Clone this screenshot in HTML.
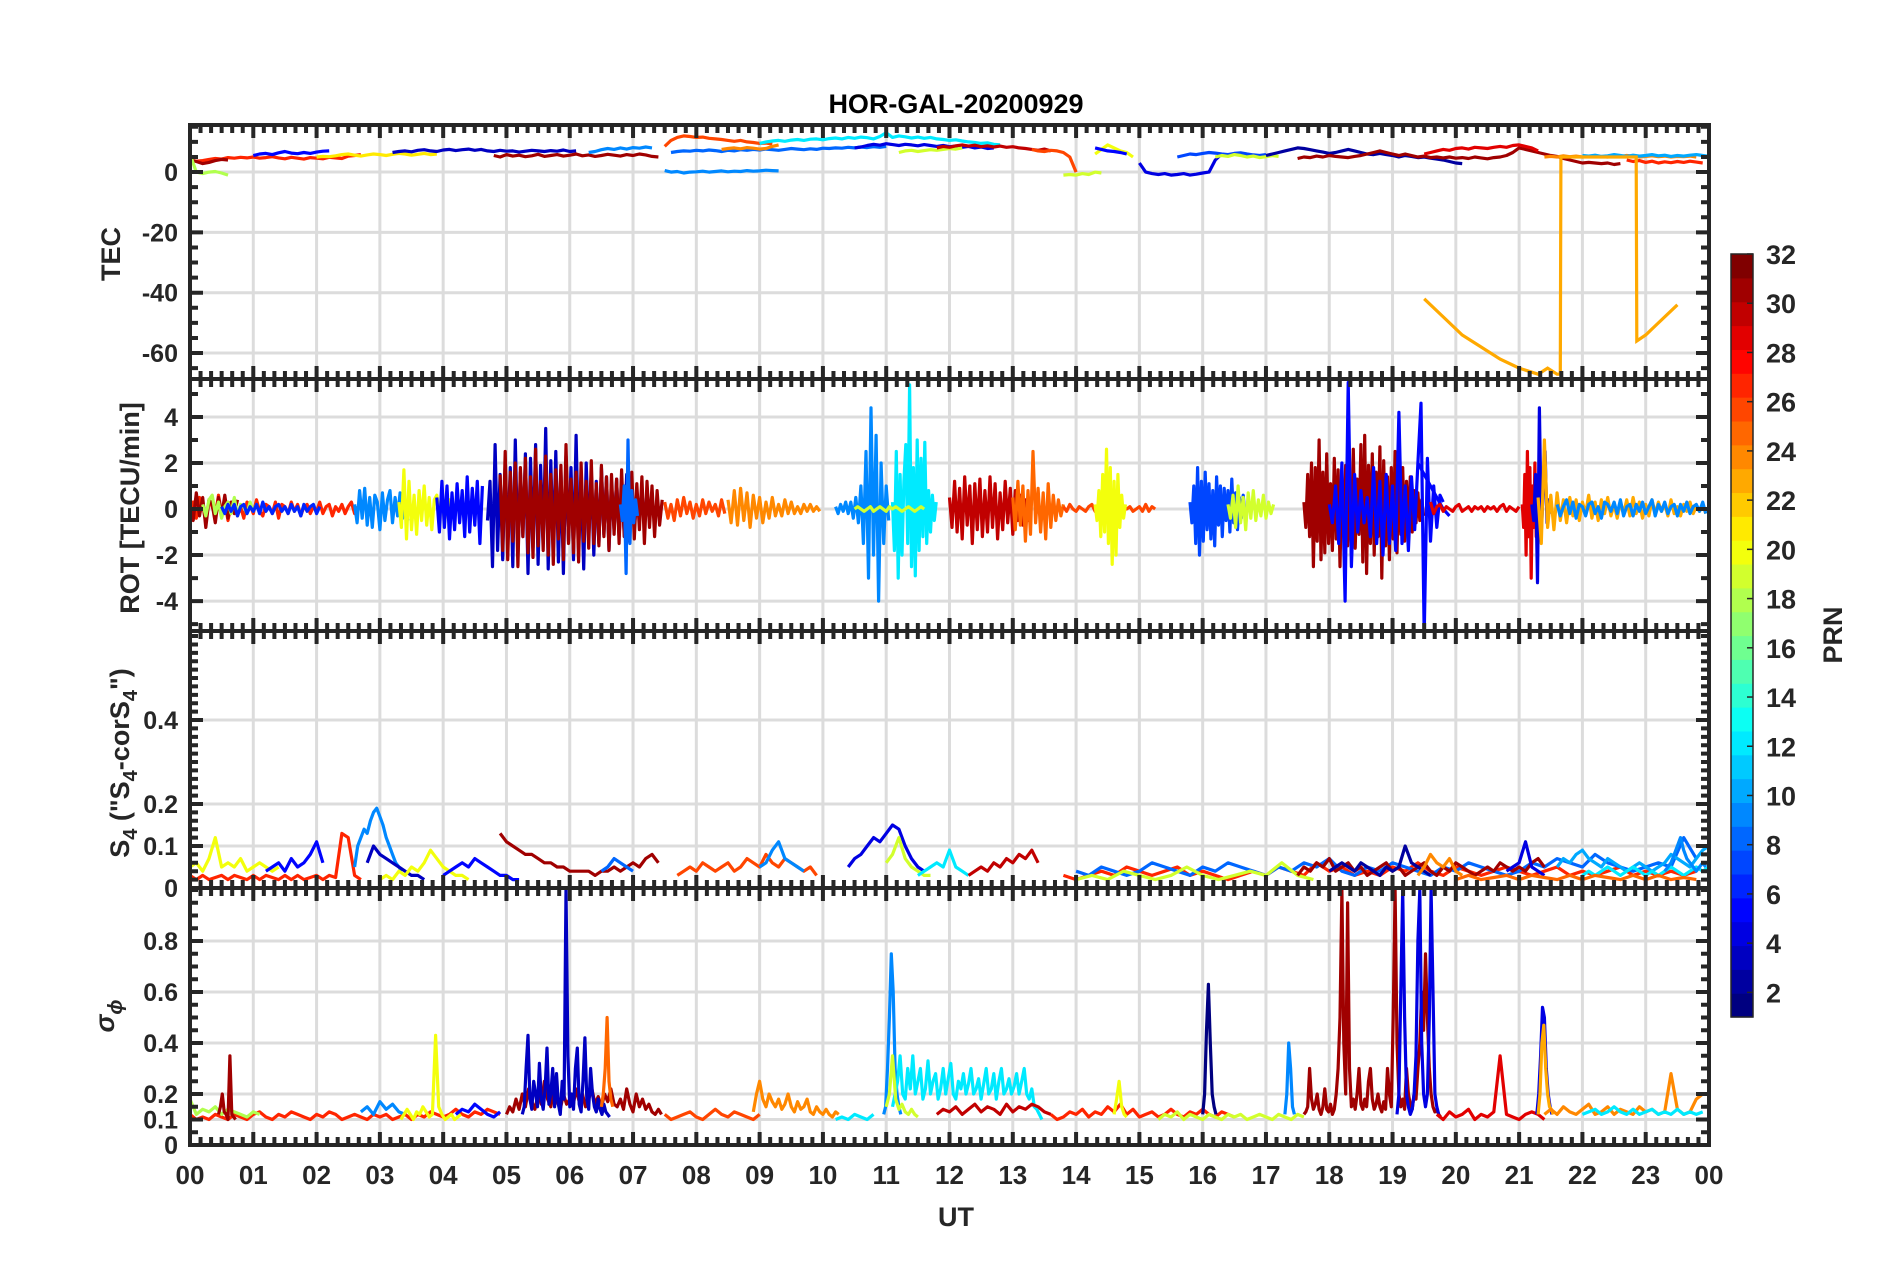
<!DOCTYPE html>
<html><head><meta charset="utf-8"><title>HOR-GAL-20200929</title>
<style>html,body{margin:0;padding:0;background:#fff}svg{display:block}text{font-family:"Liberation Sans",sans-serif;font-weight:bold;fill:#262626}</style>
</head><body>
<svg id="chart" width="1902" height="1272" viewBox="0 0 1902 1272" xmlns="http://www.w3.org/2000/svg">
<rect width="1902" height="1272" fill="#fff"/>
<text x="956" y="113" font-size="27" text-anchor="middle" style="fill:#000">HOR-GAL-20200929</text>
<g id="grid"></g><g id="data"></g><g id="axes"></g>
<text x="956" y="1226" font-size="27" text-anchor="middle">UT</text>
<text transform="translate(120,254) rotate(-90)" font-size="27" text-anchor="middle">TEC</text>
<text transform="translate(139,508) rotate(-90)" font-size="27" text-anchor="middle">ROT [TECU/min]</text>
<text transform="translate(129,763) rotate(-90)" font-size="27" text-anchor="middle">S<tspan font-size="20" dy="8">4</tspan><tspan dy="-8"> ("S</tspan><tspan font-size="20" dy="8">4</tspan><tspan dy="-8">-corS</tspan><tspan font-size="20" dy="8">4</tspan><tspan dy="-8">")</tspan></text>
<text transform="translate(114,1016) rotate(-90)" font-size="27" text-anchor="middle" font-style="italic" font-weight="normal">σ<tspan font-size="20" dy="8">ϕ</tspan></text>
<g id="colorbar"></g>
<text transform="translate(1842,635) rotate(-90)" font-size="27" text-anchor="middle">PRN</text>
</svg>
<script>
const hourLabels=["00","01","02","03","04","05","06","07","08","09","10","11","12","13","14","15","16","17","18","19","20","21","22","23","00"];
const tecTicks=[0,-20,-40,-60];
const rotTicks=[4,2,0,-2,-4];
const s4Ticks=[0,0.1,0.2,0.4];
const sigTicks=[0,0.1,0.2,0.4,0.6,0.8];
const prnTicks=[2,4,6,8,10,12,14,16,18,20,22,24,26,28,30,32];
// series: [prn, startHour, stepHours, values]
const tecSeries=[
[27,0,0.1,[4,3.6,3.8,4.2,4.5,4.3,4.8,4.6,4.9,4.7,5,4.6,4.8,5.1,4.7,4.4,4.9,4.6,4.3,4.8,4.6,4.4,4.9,4.7,4.5,5.3,5.5,5.8]],
[31,0,0.1,[4,3.5,2.8,3.2,3.8,4.2,4]],
[18,0,0.1,[6,0,-0.5,0,0.2,-0.3,-1]],
[5,1.0,0.1,[5.5,6,6.2,5.8,6.4,6.8,6.3,6.1,6.5,6.2,6.6,6.9,7]],
[21,2.0,0.1,[5,5.2,5.1,5.4,5.8,6,5.6,5.3,5.7,6,5.8,5.5,5.9,6.2,6,5.6,5.9,6.2,5.8,6]],
[3,3.2,0.1,[6.5,6.8,7,6.7,7.2,7.4,7,6.8,7.3,7.5,7.1,7.4,7.6,7.2,7.5,7,6.8,7.2,6.9,7,6.6,6.9,7.2,7,6.8,7.1,6.9,7.3,6.8,7]],
[31,4.8,0.1,[5.5,5,5.8,5.3,5.6,5.1,5.4,5.9,5.2,5.5,5.8,5.3,5.6,6,5.4,5.7,5.2,5.5,5.9,5.6,5.3,5.8,5.5,6,5.7,5.2,5]],
[9,6.3,0.1,[6.5,6.8,7.4,7.8,7.5,8,7.6,8.1,7.9,8.3,8]],
[26,7.5,0.1,[8.5,10.5,11.5,12,11.8,11.5,11.6,11.2,11,10.8,10.5,10.2,10.5,10,9.8,9.5,9.6,9.3]],
[9,7.5,0.1,[0.5,0,0.2,-0.3,0,0.1,0.3,0,0.2,0.4,0.1,0.3,0.2,0.5,0.3,0.4,0.6,0.5,0.4]],
[8,7.6,0.1,[6.5,6.8,7,6.9,7.2,7,7.3,7.1,6.8,7.2,7,7.4,7.2,7.5,7.3,7.6,7.4,7.2,7.5,7.8,7.6,7.4,7.7,7.5,7.9,7.8,8,7.9,8.2,8,8.3,8.1,8.4,8.2,8.5]],
[24,8.4,0.1,[7.5,7.8,8,7.7,8.1,7.9,7.6,7.8,8.5,9]],
[12,9,0.1,[9.5,10,10.3,10.5,10.2,10.6,10.8,10.5,10.9,11,10.7,11.1,11.3,11,11.5,11.2,11.6,11.4,11,11.8,13,11.5,12,11.7,11.3,11.6,11.2,11.5,11,10.8,10.5,10.7,10.3,10,9.8,9.5,9.7,9.2,9]],
[4,10.5,0.1,[8,8.3,8.8,9.2,8.9,9.4,9.1,8.8,9.2,9,8.7,9.1,8.8,8.5,8.8,8.4,8.6,8.2,8.5,8,8.3,7.8,8]],
[19,11.2,0.1,[6.5,7,7.2,6.8,7.1,7.4,7.2,7.5,7.8,7.6,8]],
[30,11.8,0.1,[8,8.5,8.2,8.7,9,8.6,8.9,8.4,8.7,8.3,8.6,8.2,8.4,8,7.8,7.5,7.2,7.6,7]],
[26,13.3,0.1,[7.5,7,6.8,7.2,7,6.5,5,0]],
[19,13.8,0.1,[-1,-0.8,-1,-0.5,-0.8,0,-0.3]],
[20,14.3,0.1,[6,7.5,9,8,7,6.5,5]],
[5,14.3,0.1,[8,7.5,7,6.8,6.5,6]],
[4,15.0,0.1,[3,0,-0.5,-0.8,-0.5,-1,-0.8,-0.5,-1,-0.7,-0.3,0,4,6]],
[7,15.6,0.1,[5,5.5,6,5.8,6.2,6.5,6.3,6,5.8,6.2,6.4,6,5.7,5.5,5.8]],
[19,16.2,0.1,[5,5.5,5.2,5.8,5.5,5,5.3,4.8,5.1,5.5,5.2]],
[2,17.0,0.1,[5.5,6,6.5,7,7.5,8,7.8,7.4,7,6.6,6.2,6.5,7,7.5,7,6.5,6,5.8,6.2,5.8,5.5,5,5.5,5.2,4.8,5,4.6,4.3,4,3.5,3,2.8]],
[31,17.5,0.1,[4.5,5,4.8,5.3,5,5.5,5.2,5,4.8,5.2,5.5,6,6.5,7,6.5,6,5.5,6,5.5,5,5.3,4.8,5,4.7,5,4.6,4.8,4.5,5,4.7,4.4,4.8,5,5.5,6.5,8,7.5,7,6.5,6,5.5,5.2,4.5,4,3.5,3,3.2,3,2.8,3,2.5,2.8]],
[29,19.5,0.1,[6,6.5,7,7.5,7.2,7.8,8,7.6,8.2,8,7.8,8.2,8.5,8.2,8.8,9,8.5,8,7]],
[24,21.4,0.1,[5,5.2,5,5.4,5.1,5.3,5,5.2,5.4,5.1,5,5.3,5.2,5.5,5.3,5,5.2,5.4,5.1,5.3,5,5.2,5.1,5.3,5]],
[10,22,0.1,[5.5,5.3,5.6,5.2,5.4,5.8,5.5,5.2,5.6,5.3,5.5,5.8,5.4,5.6,5.2,5.5,5.3,5.6,5.8,5.5,5.2]],
[27,22.7,0.1,[4,3.5,3.8,3.2,3.6,3,3.4,3.1,3.5,3.2,3.6,3.3,3]]
];
const tecArcPrn=23;
const tecArcTimes=[19.5,19.8,20.1,20.4,20.7,21.0,21.3,21.45,21.6,21.65,21.66,22.85,22.86,23.0,23.2,23.5];
const tecArcVals=[-42,-48,-54,-58,-62,-65,-67,-65,-67,-67,5,5,-56,-54,-50,-44];
const rotSeries=[
[27,0,0.05,[0,.3,-.4,.5,.2,-.6,.4,.1,-.3,.6,-.2,.3,-.5,.2,.4,-.3,.1,-.4,.3,.2,-.2,.4,-.1,-.3,.2,.1,-.2,.3,-.4,.2,.1,-.2,.3,-.1,.2,-.3,.1,.2,-.2,.1,-.1,.3,-.2,.1,.2,-.3,.1,-.1,.2,-.2,.1,.3,-.2,.1]],
[31,0,0.05,[.2,-.5,.7,-.3,.5,-.8,.4,.2,-.6,.5,-.3,.6,-.4,.3,-.2,.4]],
[18,0.2,0.05,[.2,-.3,.4,.6,-.2,.3,-.4,.1,.3,-.2,.5,-.3,.2,.1,-.2,.3,-.1,.2]],
[6,0.5,0.05,[.1,-.2,.2,-.1,.2,-.3,.1,.2,-.2,.1,-.1,.2,-.2,.3,-.1,.1,-.2,.1,.2,-.1,.1,-.2,.2,-.1,.1,-.3,.2,-.1,.1,.2,-.2,.1]],
[9,2.6,0.04,[.2,-.6,.8,-.4,.9,-.7,.5,-.8,.6,.3,-.9,.7,-.5,.4,.8,-.6,.5,-.3,.7,-.4,.3,-.5]],
[20,3.3,0.04,[.3,-.8,1.7,-1.3,1.2,-.9,.6,-1.1,.8,-.5,1,-.7,.5,-.9,.4,.6,-.3,.5,-.6,.2,.4,-.3]],
[5,3.9,0.04,[.5,-1,1.2,-.8,1,-1.3,.7,-.9,1.1,-.6,.8,-1.2,1.4,-1,.9,-.7,1.2,-1.5,1]],
[3,4.7,0.04,[-.5,1.2,-2.5,2.8,-1.8,1.5,-2.2,2,-1.5,1.8,-2.5,3,-2,1.6,-1.2,2.4,-2.8,2.2,-1.7,2.8,-2.4,1.9,-1.5,3.5,-2.6,2.1,-1.9,2.5,-2.3,1.7,-2.8,2.3,-1.4,1.8,-2.2,3.2,-1.8,1.4,-2.6,2,-1.3,1.6,-2,1.2,-1.5,1.8,-1.1,1.4,-1.8,1.1,-.9,1.3,-1.2,.8,-1,1.5,-.8,.6,-.9,.7,-.5,.8,-.6,.4,-.5]],
[31,4.9,0.04,[1.5,-1.8,2.5,-2.2,1.6,-1.4,2,-2.5,1.8,-1.2,2.2,-1.9,1.4,-2.1,2.6,-1.6,1.2,-1.8,2.3,-2,1.5,-2.4,1.7,-1.3,1.9,-2.2,2.8,-1.5,1.3,-1.9,1.6,-2.3,2,-1.4,1.2,-1.7,2.1,-1.5,1.1,-1.6,1.9,-1.2,1.4,-1.8,1.5,-1.1,1.3,-1.5,1.7,-1.2,.9,-1.4,1.6,-1.3,1.1,-.9,1.4,-1.5,1.2,-.8,1,-1.2,.8,-.7,.4]],
[8,6.8,0.03,[.2,-.5,1,-2.8,3,-1.5,.8,-.6,.4,-.3]],
[26,7.5,0.05,[.3,-.4,.2,-.5,.4,-.3,.5,-.2,.3,-.4,.2,-.3,.4,-.2,.3,-.1,.2,-.3,.4,-.2]],
[24,8.5,0.05,[.4,-.6,.8,-.7,.9,-.5,.7,-.8,.6,-.4,.5,-.6,.3,-.4,.5,-.3,.2,-.3,.4,-.2,.3,-.2,.1,-.2,.2,-.1,.2,-.1,.1,-.1]],
[9,10.2,0.04,[.1,-.2,.2,-.1,.3,-.2,.3,-.4,.5,-.6,1,-1.5,2.5,-3,4.4,-2,3.2,-4,2,-1.5,1,-.5]],
[12,11.1,0.03,[.3,-1.8,2.5,-3,1.5,-2,1.2,2.8,-1.5,5.4,-2.5,1.8,-2.9,3,-1.8,2.2,-1.2,2.9,-1.5,.8,-1,.6,-.5,.3]],
[19,10.5,0.05,[0,.1,0,-.1,0,.1,-.1,0,.1,0,-.1,.1,0,.1,0,-.1,0,.1,0,-.1,0,.1,0]],
[30,12.0,0.04,[.5,-.8,1.2,-1,.9,-1.3,1.4,-.7,1,-1.5,1.1,-.9,1.3,-1.2,.8,-1,1.4,-.8,1.1,-1.3,.7,-.9,1.2,-.6,.9,-1.1,.8,-.5,.6,-.7,.4,-.5,.3]],
[25,13.0,0.04,[.5,-.9,1.2,-.7,1,-1.4,.8,-1.1,2.5,-.6,.9,-1,.7,-1.3,1.1,-.8,.6,-.5,.4,-.3,.2]],
[26,13.8,0.05,[.1,-.1,.2,0,-.1,.1,0,-.1,.1,.2,-.1,0,.1,-.2,.1,0,-.1,.2,-.1,.1,0,.1,-.1,0,.1,-.1,.2,-.1,.1,0]],
[20,14.3,0.03,[.2,-.5,.8,-1.2,1.5,-1,2.6,-1.5,1.8,-2.4,1.2,-2,1.5,-.8,.6,-.4,.2]],
[7,15.8,0.03,[.3,-.6,1,-1.5,1.8,-2,1.2,-1.4,1.6,-.9,1.1,-1.3,.8,-1.6,1.4,-.7,1,-1.2,.9,-.5,.8,-1,1.3,-.6,.7,-.9,.5,-.4,.6,-.3]],
[19,16.4,0.04,[.2,-.4,.6,-.8,1,-.6,.5,-.9,.7,-.4,.8,-.5,.4,-.3,.6,-.4,.3,-.2,.2]],
[31,17.6,0.03,[.3,-.8,1.5,-1.2,2,-2.5,1.8,-1.4,3,-2.2,1.6,-1.9,2.4,-1.5,1.1,-1.8,2.2,-1.3,1.7,-2.5,1.4,-1,1.9,-1.6,1.2,-2,2.6,-1.7,1.3,-1.1,2.8,-2.3,3.2,-2.8,1.9,-1.5,2.4,-2,1.6,-1.2,2.7,-3,2.1,-1.6,1.4,-2.2,1.8,-1.3,2.5,-1.9,1.5,-1.1,1.8,-1.4,1.2,-.9,1.4,-1,.8,-.6,.7,-.5,.4,-.3]],
[5,18.0,0.05,[.2,-.6,1,-1.5,2,-4,5.5,-2.5,1.5,-1,.8,-.6,.5,-1.2,1.8,-1.5,1.2,-2,1.5,-1.5,1,-1.8,4.2,-1.5,1,-1.8,1.4,-.9,2,4.6,-5.5,2.2,-1.4,1,-.8,.6,.3]],
[5,19.4,0.1,[2,1.5,1,.5,0,-.3]],
[29,19.6,0.05,[.3,-.2,.1,.2,-.1,.1,0,-.1,.1,.2,-.1,0,.1,-.1,.1,0,.1,-.1,.1,0,.1,-.1,.1,.2,-.1,.1,0,-.1,.1]],
[29,21.05,0.02,[.2,-.8,1.5,-2,2.5,-1.2,1.8,-3,1,-.8,2,-1.2,.5,-.3]],
[4,21.2,0.03,[.2,-.5,1.5,-3.2,4.4,-1,.8,2.5,-.6,.4,-.2]],
[23,21.3,0.05,[.5,-1.5,3,-.8,.6,-.9,.7,-.5,.4,-.6,.5,-.3,.4,-.5,.3,-.2,.6,-.4,.3,-.5,.4,-.2,.5,-.3,.2,-.4,.3,-.2,.4,-.3,.5,-.2,.3,-.4,.2,-.3,.4,-.2,.3,-.1,.2,-.3,.4,-.2,.1,-.3,.2,-.1,.3,-.2,.1,-.1,.2,-.2]],
[9,21.6,0.05,[.2,-.3,.1,.4,-.2,.3,-.4,.2,.1,-.3,.2,.3,-.2,.1,-.4,.3,.2,-.1,.3,-.2,.4,-.3,.1,.2,-.3,.2,-.1,.3,-.2,.1,.4,-.3,.2,-.1,.3,-.2,.1,.2,-.3,.2,-.1,.3,-.2,.1,.2,-.1,.3,-.2]]
];
const s4Series=[
[20,0,0.1,[.05,.06,.04,.07,.12,.05,.06,.05,.07,.04,.05,.06,.05,.04,.05]],
[27,0,0.1,[.03,.02,.03,.02,.025,.03,.02,.03,.025,.02,.03,.02,.03,.025,.02,.03,.02,.03,.02,.025,.03,.02,.03,.025,.13,.12,.03,.02]],
[5,1.2,0.1,[.04,.05,.06,.04,.07,.05,.06,.08,.11,.06]],
[9,2.6,0.05,[.05,.1,.12,.14,.13,.16,.18,.19,.17,.15,.12,.1,.08,.06,.05,.04]],
[3,2.8,0.1,[.06,.1,.08,.07,.06,.05,.04,.03,.03,.02]],
[20,3.0,0.1,[.02,.03,.02,.04,.03,.05,.04,.06,.09,.07,.05,.04,.03,.03,.02]],
[5,4.0,0.1,[.03,.04,.05,.06,.05,.07,.06,.05,.04,.03,.03,.02,.02]],
[31,4.9,0.1,[.13,.11,.1,.09,.08,.08,.07,.06,.06,.05,.05,.04,.04,.04,.04,.03,.04,.04,.05,.04,.05,.06,.05,.07,.08,.06]],
[8,6.5,0.1,[.04,.05,.07,.06,.05,.04]],
[26,7.7,0.1,[.03,.04,.05,.04,.06,.05,.04,.05,.06,.04,.05,.07,.06,.05,.08,.06,.05,.07,.06,.05,.04,.05,.03]],
[9,9,0.1,[.05,.06,.09,.11,.07,.06,.05,.04]],
[4,10.4,0.1,[.05,.07,.08,.1,.12,.11,.13,.15,.14,.1,.07,.05,.04]],
[19,11.0,0.1,[.06,.08,.12,.07,.05,.04,.03,.03]],
[12,11.5,0.1,[.03,.04,.05,.06,.05,.09,.05,.04,.03]],
[30,12.3,0.1,[.03,.04,.05,.04,.06,.05,.07,.06,.08,.07,.09,.06]],
[27,13.8,0.2,[.03,.02,.03,.04,.03,.05,.04,.03,.04,.05,.03,.04,.03,.02,.03,.04,.03,.05,.04,.03,.06,.04,.05,.03,.04,.03,.05,.04,.06,.04,.03,.05,.04,.03,.04,.05,.04,.03,.04,.05,.03,.04,.03,.04,.05,.03,.04,.03,.04,.03,.04]],
[8,14,0.2,[.04,.03,.05,.04,.03,.04,.06,.05,.04,.03,.05,.04,.06,.05,.04,.03,.05,.04,.06,.05,.07,.04,.03,.05,.04,.06,.05,.04,.03,.05,.04,.06,.05,.04,.03,.04,.06,.05,.07,.06,.05,.08,.06,.05,.04,.05,.06,.05,.12,.07]],
[19,14,0.25,[.02,.03,.02,.04,.03,.02,.03,.05,.03,.02,.03,.04,.03,.06,.03,.02]],
[31,17.5,0.1,[.03,.05,.04,.06,.05,.07,.04,.05,.06,.04,.05,.03,.04,.05,.06,.04,.05,.03,.04,.05,.06,.04,.03,.05,.04,.06,.05,.04,.03,.04,.05,.04,.06,.05,.04,.05,.04,.06,.07,.05]],
[2,18.0,0.1,[.04,.05,.06,.05,.04,.06,.05,.04,.03,.05,.04,.05,.1,.06,.05,.04,.03]],
[24,19.4,0.1,[.03,.05,.08,.06,.05,.07,.04,.03]],
[4,20.8,0.1,[.04,.05,.06,.11,.05,.04,.03]],
[10,21.6,0.1,[.05,.07,.06,.08,.09,.07,.06,.05,.07,.06,.05,.04,.05,.06,.05,.04,.05,.06,.08,.07,.06,.05,.07,.09,.1,.08]],
[12,22,0.1,[.03,.04,.03,.04,.05,.04,.03,.04,.05,.04,.03,.04,.03,.04,.05,.04,.03,.04,.05,.04,.05]],
[25,20,0.2,[.02,.03,.02,.025,.03,.02,.03,.025,.02,.03,.02,.03,.025,.02,.03,.02,.03,.02,.025,.02]],
[9,23.3,0.05,[.04,.05,.06,.08,.1,.12,.09,.07,.06,.05,.04,.05,.06,.05]]
];
const sigSeries=[
[27,0,0.1,[.12,.1,.11,.1,.12,.11,.1,.12,.11,.1,.12,.13,.11,.1,.12,.11,.13,.12,.11,.1,.12,.11,.13,.12,.1,.11,.12,.11,.1,.12,.11,.12,.1,.11,.12,.1,.12,.11,.13,.12,.11,.12,.14,.12,.11,.13,.12,.14,.13,.12]],
[18,0,0.1,[.18,.12,.14,.13,.15,.12,.14,.13,.12,.11,.13,.12]],
[31,0.45,0.03,[.12,.15,.2,.13,.12,.1,.35,.12,.11,.1]],
[9,2.7,0.1,[.13,.15,.12,.17,.14,.16,.13,.12]],
[20,3.33,0.05,[.1,.12,.14,.12,.1,.13,.12,.15,.13,.11,.12,.43,.15,.12,.1,.11,.12,.1,.11,.12]],
[5,4.2,0.1,[.12,.14,.13,.16,.14,.12,.11,.13]],
[31,5.0,0.05,[.12,.15,.13,.18,.14,.2,.15,.22,.17,.14,.2,.16,.25,.18,.15,.22,.17,.14,.2,.16,.18,.15,.22,.17,.2,.15,.18,.22,.16,.19,.15,.2,.17,.22,.16,.15,.18,.14,.22,.16,.13,.2,.15,.18,.14,.16,.13,.12,.14,.12]],
[3,5.25,0.03,[.12,.15,.3,.43,.18,.14,.25,.2,.15,.32,.18,.14,.22,.38,.16,.2,.3,.15,.28,.16,.12,.25,.18,1.0,.35,.15,.2,.14,.3,.38,.16,.13,.25,.42,.18,.14,.3,.2,.15,.13,.18,.14,.12,.16,.13,.12,.11]],
[25,6.5,0.03,[.15,.2,.3,.5,.25,.18,.15]],
[26,7.5,0.1,[.12,.1,.11,.12,.13,.11,.1,.12,.14,.12,.11,.13,.12,.11,.1,.12]],
[24,8.9,0.05,[.13,.2,.25,.18,.15,.2,.17,.15,.18,.14,.16,.2,.15,.13,.17,.14,.15,.18,.13,.12,.15,.13,.12,.14,.12,.11,.13,.12]],
[12,10.2,0.1,[.1,.11,.1,.12,.11,.1,.12]],
[9,10.96,0.03,[.12,.15,.3,.5,.75,.6,.3,.2,.15,.12]],
[12,11.1,0.04,[.15,.2,.25,.35,.2,.18,.3,.22,.35,.2,.25,.3,.18,.22,.33,.2,.25,.28,.18,.22,.3,.2,.26,.32,.2,.18,.25,.22,.28,.2,.24,.3,.2,.22,.26,.18,.24,.3,.2,.22,.28,.18,.25,.3,.2,.22,.26,.2,.23,.28,.2,.25,.3,.2,.18,.22,.15,.14,.12,.1]],
[19,11.0,0.05,[.15,.2,.35,.18,.14,.16,.13,.12,.14,.12,.11]],
[30,11.8,0.1,[.12,.14,.13,.15,.12,.14,.16,.13,.15,.14,.12,.16,.13,.15,.14,.16,.15,.13,.12]],
[27,13.6,0.1,[.12,.1,.11,.13,.12,.14,.11,.13,.12,.15,.13,.16,.12,.14,.11,.12,.13,.11,.12,.14,.12,.11,.13,.12,.14,.12,.11,.13,.12,.11]],
[20,14.6,0.04,[.12,.18,.25,.15,.12,.11]],
[19,15.3,0.1,[.1,.12,.11,.13,.1,.12,.11,.1,.12,.11,.1,.12,.11,.12,.1,.11,.12,.11,.1,.12,.11,.1,.12,.11]],
[1,16.0,0.03,[.12,.2,.45,.63,.4,.2,.15,.12]],
[9,17.3,0.03,[.12,.2,.4,.3,.15,.12]],
[31,17.6,0.03,[.12,.13,.15,.3,.18,.14,.16,.2,.14,.12,.15,.22,.14,.13,.16,.12,.14,.2,.3,.5,1.0,.4,.2,.95,.3,.15,.18,.14,.2,.3,.16,.14,.18,.15,.25,.3,.18,.14,.16,.2,.15,.13,.17,.14,.3,.2,.15,.5,1.0,.4,.2,.15,.18,.14,.3,.2,.16,.14,.2,.18,.3,.4,.6,.45,.75,.5,.3,.2,.15,.13,.14,.12,.11]],
[4,19.07,0.03,[.12,.2,.6,1.0,.5,.2,.15,.12,.14,.2,.35,.8,1.0,.4,.2,.15,.2,.5,1.0,.6,.2,.15,.12]],
[29,19.7,0.1,[.12,.1,.13,.11,.12,.14,.1,.12,.11,.13,.35,.12,.11,.1,.12,.13,.12,.1]],
[4,21.28,0.03,[.12,.2,.35,.54,.5,.3,.2,.15,.12]],
[23,21.3,0.03,[.12,.2,.4,.47,.3,.2,.15,.14,.12]],
[24,21.4,0.1,[.12,.14,.12,.15,.13,.12,.14,.16,.12,.13,.15,.12,.14,.13,.12,.15,.13,.14,.12,.13,.28,.14,.12,.13,.18,.2]],
[12,22,0.1,[.12,.13,.14,.12,.13,.15,.13,.12,.14,.12,.13,.14,.12,.13,.12,.14,.12,.13,.12,.13]]
];

const NS='http://www.w3.org/2000/svg';
const X0=190,X1=1709;
const panels=[
 {name:'tec',top:125,bot:379,min:-68.6,max:15.6,ticks:tecTicks,minor:5,fmt:v=>String(v),series:tecSeries},
 {name:'rot',top:379,bot:631,min:-5.3,max:5.65,ticks:rotTicks,minor:1,fmt:v=>String(v),series:rotSeries},
 {name:'s4',top:631,bot:888,min:0,max:0.612,ticks:s4Ticks,minor:0.02,fmt:v=>v===0?'0':v.toFixed(1),series:s4Series},
 {name:'sigma',top:888,bot:1145,min:0,max:1.008,ticks:sigTicks,minor:0.05,fmt:v=>v===0?'0':v.toFixed(1),series:sigSeries}
];
function xScale(h){return X0+h*(X1-X0)/24;}
function yScale(p,v){return p.bot-(v-p.min)*(p.bot-p.top)/(p.max-p.min);}
function jet(prn){const t=(prn-1)/31;const r=Math.min(1,Math.max(0,Math.min(4*t-1.5,-4*t+4.5)));const g=Math.min(1,Math.max(0,Math.min(4*t-0.5,-4*t+3.5)));const b=Math.min(1,Math.max(0,Math.min(4*t+0.5,-4*t+2.5)));return `rgb(${Math.round(r*255)},${Math.round(g*255)},${Math.round(b*255)})`;}
function mk(tag,attrs,parent){const e=document.createElementNS(NS,tag);for(const k in attrs)e.setAttribute(k,attrs[k]);parent.appendChild(e);return e;}
const grid=document.getElementById('grid'),data=document.getElementById('data'),axes=document.getElementById('axes');
const defs=mk('defs',{},data);
panels.forEach((p,pi)=>{
 for(let h=1;h<24;h++){const l=mk('line',{x1:xScale(h),x2:xScale(h),y1:p.top,y2:p.bot,stroke:'#dcdcdc','stroke-width':3},grid);
  
  }
 p.ticks.forEach(v=>{const y=yScale(p,v);const l=mk('line',{x1:X0,x2:X1,y1:y,y2:y,stroke:'#dcdcdc','stroke-width':3},grid);
  
  });
 const cp=mk('clipPath',{id:'clip'+pi},defs);mk('rect',{x:X0,y:p.top,width:X1-X0,height:p.bot-p.top},cp);
 const g=mk('g',{'clip-path':`url(#clip${pi})`},data);
 
 
 p.series.forEach(s=>{const [prn,t0,dt,vals]=s;const pts=vals.map((v,i)=>xScale(t0+i*dt).toFixed(1)+','+yScale(p,v).toFixed(1)).join(' ');
  const pl=mk('polyline',{points:pts,fill:'none',stroke:jet(prn),'stroke-width':3.2,'stroke-linejoin':'round'},g);
  
  });
 if(p.name==='tec'){const pts=tecArcTimes.map((t,i)=>xScale(t).toFixed(1)+','+yScale(p,tecArcVals[i]).toFixed(1)).join(' ');
  const pl=mk('polyline',{points:pts,fill:'none',stroke:jet(tecArcPrn),'stroke-width':3.2},g);
  
  }
 const box=mk('rect',{x:X0,y:p.top,width:X1-X0,height:p.bot-p.top,fill:'none',stroke:'#262626','stroke-width':4},axes);
 
 
 let d='';
 for(let m=0;m<=144;m++){const x=xScale(m/6);const len=(m%6===0)?13:8;d+=`M${x},${p.top}v${len}M${x},${p.bot}v${-len}`;}
 const start=Math.ceil(p.min/p.minor-1e-6);
 for(let k=start;k*p.minor<=p.max+1e-9;k++){const v=k*p.minor;const y=yScale(p,v);const major=p.ticks.some(t=>Math.abs(t-v)<1e-6);const len=major?13:8;d+=`M${X0},${y}h${len}M${X1},${y}h${-len}`;}
 const tk=mk('path',{d:d,stroke:'#262626','stroke-width':4,fill:'none'},axes);
 
 
 p.ticks.forEach(v=>{const t=mk('text',{x:178,y:yScale(p,v)+9,'font-size':25,'text-anchor':'end'},axes);t.textContent=p.fmt(v);
  
  });
});
hourLabels.forEach((lab,i)=>{const t=mk('text',{x:xScale(i),y:1184,'font-size':26,'text-anchor':'middle'},axes);t.textContent=lab;
 
 });
// colorbar: value 1 at bottom edge, 32 at top edge
const cb=document.getElementById('colorbar');const CT=254,CB=1017,CX=1731,CW=22;
function cbY(v){return CB-(v-1)*(CB-CT)/31;}
for(let k=1;k<=32;k++){const h=(CB-CT)/32;const r=mk('rect',{x:CX,y:CB-k*h,width:CW,height:h+0.6,fill:jet(k)},cb);
 
 }
mk('rect',{x:CX,y:CT,width:CW,height:CB-CT,fill:'none',stroke:'#262626','stroke-width':1.5},cb);
prnTicks.forEach(v=>{const y=cbY(v);mk('line',{x1:CX+CW-6,x2:CX+CW,y1:y,y2:y,stroke:'#262626','stroke-width':1.5},cb);
 const t=mk('text',{x:1766,y:y+10,'font-size':27},cb);t.textContent=v;
 
 });
</script>
</body></html>
